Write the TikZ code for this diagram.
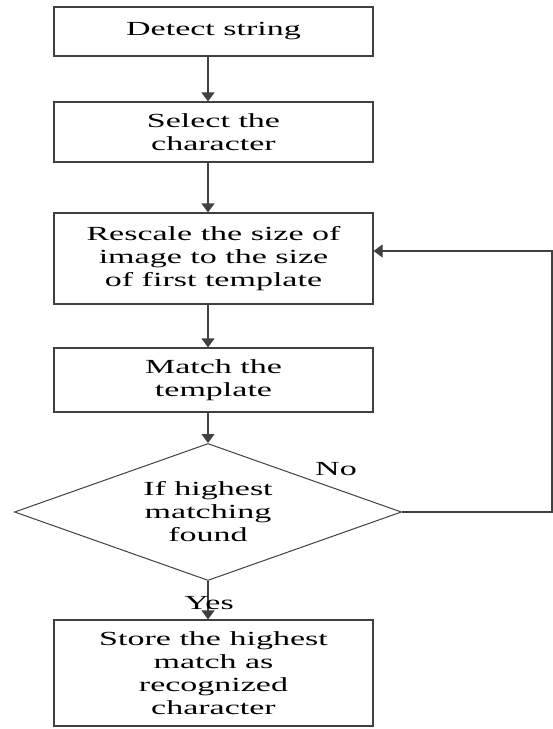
\documentclass[tikz,border=0pt]{standalone}
\usepackage{fontspec}
\setmainfont[FakeStretch=1.7]{Liberation Serif}
\usepackage{tikz}
\usetikzlibrary{shapes.geometric,arrows.meta}
\tikzset{proc/.style={rectangle,draw=black!75,line width=1.2pt,minimum width=319pt,inner sep=0pt,align=center,font=\fontsize{20}{23}\selectfont}}
\tikzset{cond/.style={diamond,aspect=2.82,draw=black!75,line width=1pt,minimum width=387pt,minimum height=137pt,inner sep=0pt,align=center,font=\fontsize{20}{23}\selectfont}}

\begin{document}
\begin{tikzpicture}[x=1pt,y=-1pt,>={Triangle[length=9pt,width=13pt]}]
        \useasboundingbox (0,0) rectangle (553,729);

        \node[proc,minimum height=49pt] (detect) at (213.5,31.5) {Detect string};
        \node[proc,minimum height=60pt] (select) at (213.5,132) {Select the\\character};
        \node[proc,minimum height=91pt] (rescale) at (213.5,258.5) {Rescale the size of\\image to the size\\of first template};
        \node[proc,minimum height=64pt] (match) at (213.5,380) {Match the\\template};
        \node[cond] (found) at (208,512) {If highest\\matching\\found};
        \node[proc,minimum height=106pt] (store) at (213.5,673) {Store the highest\\match as\\recognized\\character};

        \coordinate (back) at (552,251);

        \draw [->,line width=1.2pt,black!75] (detect.south -| found) to (select.north -| found);
        \draw [->,line width=1.2pt,black!75] (select.south -| found) to (rescale.north -| found);
        \draw [->,line width=1.2pt,black!75] (rescale.south -| found) to (match.north -| found);
        \draw [->,line width=1.2pt,black!75] (match.south -| found) to (found.north);
        \draw [->,line width=1.2pt,black!75] (found.south) to (store.north -| found);
        \draw [->,line width=1.2pt,black!75] (found.east) -- (found.east -| back) -- (back) -- (back -| rescale.east);

        \node[font=\fontsize{20}{23}\selectfont] (no) at (336,469) {No};
        \node[font=\fontsize{20}{23}\selectfont] (yes) at (209,603) {Yes};
    \end{tikzpicture}
\end{document}
